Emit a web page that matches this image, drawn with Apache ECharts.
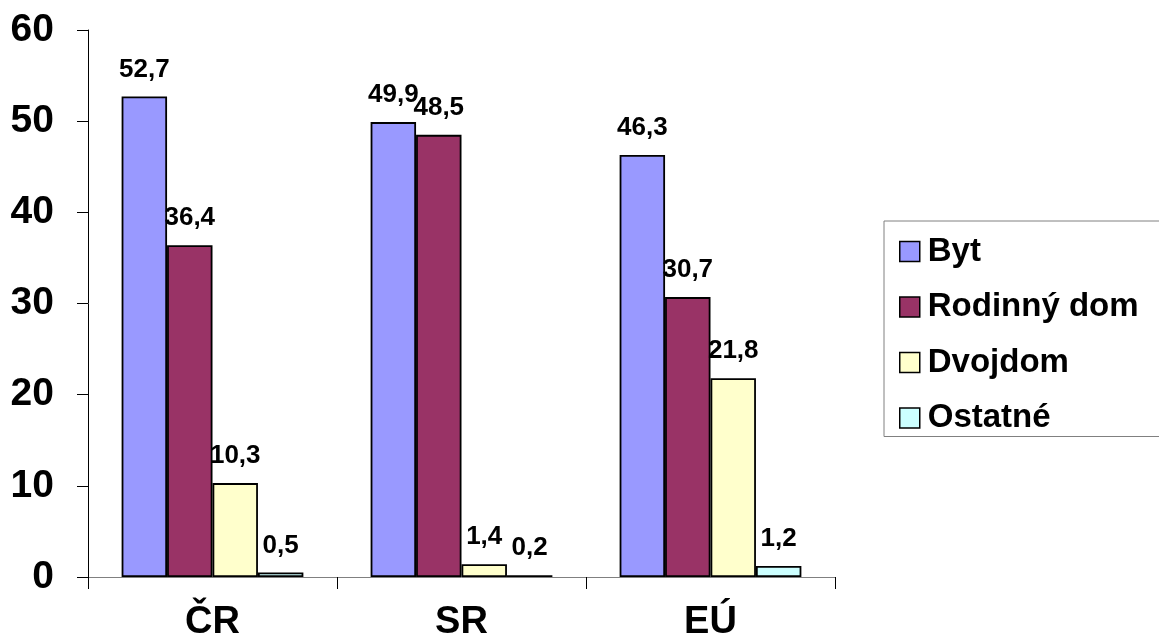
<!DOCTYPE html>
<html>
<head>
<meta charset="utf-8">
<script src="https://cdn.jsdelivr.net/npm/echarts@6/dist/echarts.min.js"></script>
<style>
  html, body { margin: 0; padding: 0; background: #fff; }
  #chart { width: 1159px; height: 642px; }
</style>
</head>
<body>
<div id="chart"></div>
<script>
// Housing type shares (%) by region
const categories = ['ČR', 'SR', 'EÚ'];
const seriesNames = ['Byt', 'Rodinný dom', 'Dvojdom', 'Ostatné'];
const byt = [52.7, 49.9, 46.3];
const rodinnyDom = [36.4, 48.5, 30.7];
const dvojdom = [10.3, 1.4, 21.8];
const ostatne = [0.5, 0.2, 1.2];
const yTicks = [0, 10, 20, 30, 40, 50, 60];

const seriesValues = [byt, rodinnyDom, dvojdom, ostatne];
const colors = ['#9999FF', '#993366', '#FFFFCC', '#CCFFFF'];

const chart = echarts.init(document.getElementById('chart'));

const fmt = v => String(v).replace('.', ',');

chart.setOption({
  animation: false,
  backgroundColor: '#ffffff',
  grid: { left: 88, right: 324, top: 30, bottom: 63 },
  legend: {
    orient: 'vertical',
    left: 884,
    top: 221,
    padding: [14, 60, 2, 15],
    borderColor: '#808080',
    borderWidth: 1,
    itemWidth: 20,
    itemHeight: 20,
    itemGap: 22.5,
    icon: 'rect',
    itemStyle: { borderColor: '#000', borderWidth: 1.5 },
    textStyle: {
      fontFamily: 'Liberation Sans',
      fontWeight: 'bold',
      fontSize: 33,
      color: '#000',
      padding: [0, 0, 0, 3]
    },
    data: seriesNames
  },
  xAxis: {
    type: 'category',
    data: categories,
    boundaryGap: true,
    axisLine: { lineStyle: { color: '#808080', width: 1 } },
    axisTick: { show: true, length: 12, lineStyle: { color: '#000', width: 1 } },
    axisLabel: {
      margin: 27,
      fontFamily: 'Liberation Sans',
      fontWeight: 'bold',
      fontSize: 38,
      color: '#000'
    }
  },
  yAxis: {
    type: 'value',
    min: yTicks[0],
    max: yTicks[yTicks.length - 1],
    interval: 10,
    splitLine: { show: false },
    axisLine: { show: true, lineStyle: { color: '#000', width: 1 } },
    axisTick: { show: true, length: 11, lineStyle: { color: '#000', width: 1 } },
    axisLabel: {
      margin: 34,
      fontFamily: 'Liberation Sans',
      fontWeight: 'bold',
      fontSize: 39,
      color: '#000'
    }
  },
  series: seriesNames.map((name, i) => ({
    name: name,
    type: 'bar',
    data: seriesValues[i],
    barGap: '0%',
    barCategoryGap: '27%',
    itemStyle: { color: colors[i], borderColor: '#000', borderWidth: 1.8 },
    label: {
      show: true,
      position: 'top',
      distance: 14,
      formatter: p => fmt(p.value),
      fontFamily: 'Liberation Sans',
      fontWeight: 'bold',
      fontSize: 26,
      color: '#000'
    }
  }))
});
</script>
</body>
</html>
